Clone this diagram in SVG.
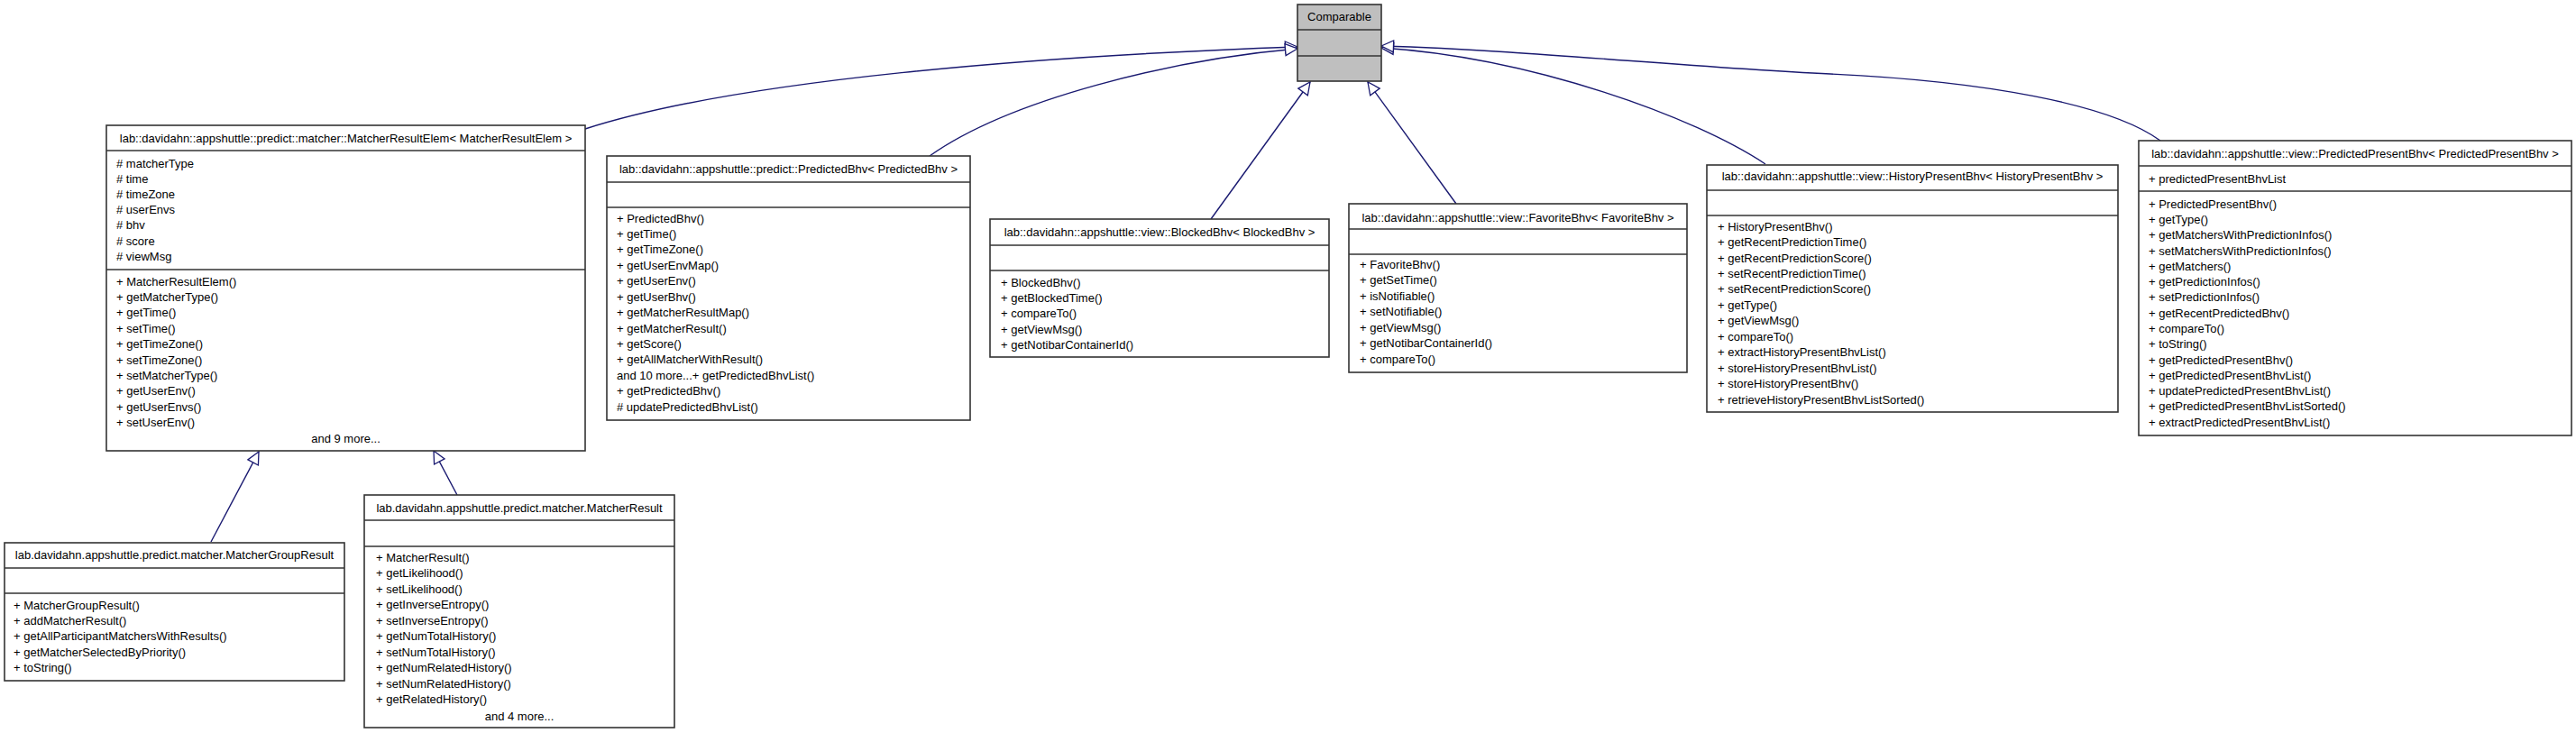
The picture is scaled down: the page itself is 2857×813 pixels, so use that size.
<svg xmlns="http://www.w3.org/2000/svg" width="2857" height="813" viewBox="0 0 2857 813">
<style>
.box{fill:#ffffff;stroke:#333333;stroke-width:1.6}
.cur{fill:#bfbfbf;stroke:#333333;stroke-width:1.6}
.dv{stroke:#333333;stroke-width:1.6}
text{font-family:"Liberation Sans",Arial,Helvetica,sans-serif;font-size:13px;fill:#000000}
.c{text-anchor:middle}
.edge{fill:none;stroke:#191970;stroke-width:1.4;marker-end:url(#tri)}
</style>
<defs>
<marker id="tri" markerUnits="userSpaceOnUse" markerWidth="16" markerHeight="16" refX="14" refY="7" orient="auto" overflow="visible">
<path d="M0.5,0.5 L14,7 L0.5,13.5 Z" fill="#ffffff" stroke="#191970" stroke-width="1.3"/>
</marker>
</defs>
<rect width="2857" height="813" fill="#ffffff"/>
<g id="edges">
<path class="edge" d="M649,143 C820,88 1150,62 1439,52"/>
<path class="edge" d="M1031,173 C1120,110 1300,66 1439,54"/>
<path class="edge" d="M1343,243 L1453,91"/>
<path class="edge" d="M1615,226 L1517,91"/>
<path class="edge" d="M1958,182 C1880,130 1700,64 1532,53"/>
<path class="edge" d="M2396,156 C2340,115 2200,90 2030,82 C1860,74 1700,56 1532,51"/>
<path class="edge" d="M234,601 L287,501"/>
<path class="edge" d="M507,549 L481,500"/>
</g>
<g id="Comparable">
<rect class="cur" x="1439" y="5" width="93" height="85"/>
<line class="dv" x1="1439" y1="33" x2="1532" y2="33"/>
<line class="dv" x1="1439" y1="62" x2="1532" y2="62"/>
<text class="c" x="1485.5" y="23">Comparable</text>
</g>
<g id="MatcherResultElem">
<rect class="box" x="118" y="139" width="531" height="361"/>
<line class="dv" x1="118" y1="167" x2="649" y2="167"/>
<line class="dv" x1="118" y1="299" x2="649" y2="299"/>
<text class="c" x="383.5" y="158">lab::davidahn::appshuttle::predict::matcher::MatcherResultElem&lt; MatcherResultElem &gt;</text>
<text x="129" y="185.6"># matcherType</text>
<text x="129" y="202.8"># time</text>
<text x="129" y="220"># timeZone</text>
<text x="129" y="237.2"># userEnvs</text>
<text x="129" y="254.4"># bhv</text>
<text x="129" y="271.6"># score</text>
<text x="129" y="288.8"># viewMsg</text>
<text x="129" y="316.6">+ MatcherResultElem()</text>
<text x="129" y="334">+ getMatcherType()</text>
<text x="129" y="351.4">+ getTime()</text>
<text x="129" y="368.8">+ setTime()</text>
<text x="129" y="386.2">+ getTimeZone()</text>
<text x="129" y="403.6">+ setTimeZone()</text>
<text x="129" y="421">+ setMatcherType()</text>
<text x="129" y="438.4">+ getUserEnv()</text>
<text x="129" y="455.8">+ getUserEnvs()</text>
<text x="129" y="473.2">+ setUserEnv()</text>
<text class="c" x="383.5" y="490.6">and 9 more...</text>
</g>
<g id="PredictedBhv">
<rect class="box" x="673" y="173" width="403" height="293"/>
<line class="dv" x1="673" y1="202" x2="1076" y2="202"/>
<line class="dv" x1="673" y1="230" x2="1076" y2="230"/>
<text class="c" x="874.5" y="191.6">lab::davidahn::appshuttle::predict::PredictedBhv&lt; PredictedBhv &gt;</text>
<text x="684" y="246.6">+ PredictedBhv()</text>
<text x="684" y="264">+ getTime()</text>
<text x="684" y="281.4">+ getTimeZone()</text>
<text x="684" y="298.9">+ getUserEnvMap()</text>
<text x="684" y="316.3">+ getUserEnv()</text>
<text x="684" y="333.7">+ getUserBhv()</text>
<text x="684" y="351.1">+ getMatcherResultMap()</text>
<text x="684" y="368.5">+ getMatcherResult()</text>
<text x="684" y="386">+ getScore()</text>
<text x="684" y="403.4">+ getAllMatcherWithResult()</text>
<text x="684" y="420.8">and 10 more...+ getPredictedBhvList()</text>
<text x="684" y="438.2">+ getPredictedBhv()</text>
<text x="684" y="455.6"># updatePredictedBhvList()</text>
</g>
<g id="BlockedBhv">
<rect class="box" x="1098" y="243" width="376" height="153"/>
<line class="dv" x1="1098" y1="272" x2="1474" y2="272"/>
<line class="dv" x1="1098" y1="300" x2="1474" y2="300"/>
<text class="c" x="1286" y="261.6">lab::davidahn::appshuttle::view::BlockedBhv&lt; BlockedBhv &gt;</text>
<text x="1110" y="317.6">+ BlockedBhv()</text>
<text x="1110" y="335">+ getBlockedTime()</text>
<text x="1110" y="352.4">+ compareTo()</text>
<text x="1110" y="369.8">+ getViewMsg()</text>
<text x="1110" y="387.2">+ getNotibarContainerId()</text>
</g>
<g id="FavoriteBhv">
<rect class="box" x="1496" y="226" width="375" height="187"/>
<line class="dv" x1="1496" y1="254" x2="1871" y2="254"/>
<line class="dv" x1="1496" y1="282" x2="1871" y2="282"/>
<text class="c" x="1683.5" y="245.6">lab::davidahn::appshuttle::view::FavoriteBhv&lt; FavoriteBhv &gt;</text>
<text x="1508" y="297.6">+ FavoriteBhv()</text>
<text x="1508" y="315.1">+ getSetTime()</text>
<text x="1508" y="332.6">+ isNotifiable()</text>
<text x="1508" y="350.1">+ setNotifiable()</text>
<text x="1508" y="367.6">+ getViewMsg()</text>
<text x="1508" y="385.1">+ getNotibarContainerId()</text>
<text x="1508" y="402.6">+ compareTo()</text>
</g>
<g id="HistoryPresentBhv">
<rect class="box" x="1893" y="183" width="456" height="274"/>
<line class="dv" x1="1893" y1="211" x2="2349" y2="211"/>
<line class="dv" x1="1893" y1="239" x2="2349" y2="239"/>
<text class="c" x="2121" y="199.6">lab::davidahn::appshuttle::view::HistoryPresentBhv&lt; HistoryPresentBhv &gt;</text>
<text x="1905" y="255.6">+ HistoryPresentBhv()</text>
<text x="1905" y="273">+ getRecentPredictionTime()</text>
<text x="1905" y="290.5">+ getRecentPredictionScore()</text>
<text x="1905" y="307.9">+ setRecentPredictionTime()</text>
<text x="1905" y="325.4">+ setRecentPredictionScore()</text>
<text x="1905" y="342.8">+ getType()</text>
<text x="1905" y="360.3">+ getViewMsg()</text>
<text x="1905" y="377.7">+ compareTo()</text>
<text x="1905" y="395.2">+ extractHistoryPresentBhvList()</text>
<text x="1905" y="412.6">+ storeHistoryPresentBhvList()</text>
<text x="1905" y="430.1">+ storeHistoryPresentBhv()</text>
<text x="1905" y="447.5">+ retrieveHistoryPresentBhvListSorted()</text>
</g>
<g id="PredictedPresentBhv">
<rect class="box" x="2372" y="156" width="480" height="327"/>
<line class="dv" x1="2372" y1="184" x2="2852" y2="184"/>
<line class="dv" x1="2372" y1="212" x2="2852" y2="212"/>
<text class="c" x="2612" y="174.6">lab::davidahn::appshuttle::view::PredictedPresentBhv&lt; PredictedPresentBhv &gt;</text>
<text x="2383" y="202.6">+ predictedPresentBhvList</text>
<text x="2383" y="230.6">+ PredictedPresentBhv()</text>
<text x="2383" y="247.9">+ getType()</text>
<text x="2383" y="265.2">+ getMatchersWithPredictionInfos()</text>
<text x="2383" y="282.5">+ setMatchersWithPredictionInfos()</text>
<text x="2383" y="299.8">+ getMatchers()</text>
<text x="2383" y="317.1">+ getPredictionInfos()</text>
<text x="2383" y="334.3">+ setPredictionInfos()</text>
<text x="2383" y="351.6">+ getRecentPredictedBhv()</text>
<text x="2383" y="368.9">+ compareTo()</text>
<text x="2383" y="386.2">+ toString()</text>
<text x="2383" y="403.5">+ getPredictedPresentBhv()</text>
<text x="2383" y="420.8">+ getPredictedPresentBhvList()</text>
<text x="2383" y="438.1">+ updatePredictedPresentBhvList()</text>
<text x="2383" y="455.4">+ getPredictedPresentBhvListSorted()</text>
<text x="2383" y="472.7">+ extractPredictedPresentBhvList()</text>
</g>
<g id="MatcherGroupResult">
<rect class="box" x="5" y="602" width="377" height="153"/>
<line class="dv" x1="5" y1="630" x2="382" y2="630"/>
<line class="dv" x1="5" y1="658" x2="382" y2="658"/>
<text class="c" x="193.5" y="619.6">lab.davidahn.appshuttle.predict.matcher.MatcherGroupResult</text>
<text x="15" y="675.6">+ MatcherGroupResult()</text>
<text x="15" y="692.9">+ addMatcherResult()</text>
<text x="15" y="710.2">+ getAllParticipantMatchersWithResults()</text>
<text x="15" y="727.5">+ getMatcherSelectedByPriority()</text>
<text x="15" y="744.8">+ toString()</text>
</g>
<g id="MatcherResult">
<rect class="box" x="404" y="549" width="344" height="258"/>
<line class="dv" x1="404" y1="577" x2="748" y2="577"/>
<line class="dv" x1="404" y1="606" x2="748" y2="606"/>
<text class="c" x="576" y="567.6">lab.davidahn.appshuttle.predict.matcher.MatcherResult</text>
<text x="417" y="622.6">+ MatcherResult()</text>
<text x="417" y="640.1">+ getLikelihood()</text>
<text x="417" y="657.6">+ setLikelihood()</text>
<text x="417" y="675.1">+ getInverseEntropy()</text>
<text x="417" y="692.6">+ setInverseEntropy()</text>
<text x="417" y="710.1">+ getNumTotalHistory()</text>
<text x="417" y="727.6">+ setNumTotalHistory()</text>
<text x="417" y="745.1">+ getNumRelatedHistory()</text>
<text x="417" y="762.6">+ setNumRelatedHistory()</text>
<text x="417" y="780.1">+ getRelatedHistory()</text>
<text class="c" x="576" y="798.6">and 4 more...</text>
</g>
</svg>
